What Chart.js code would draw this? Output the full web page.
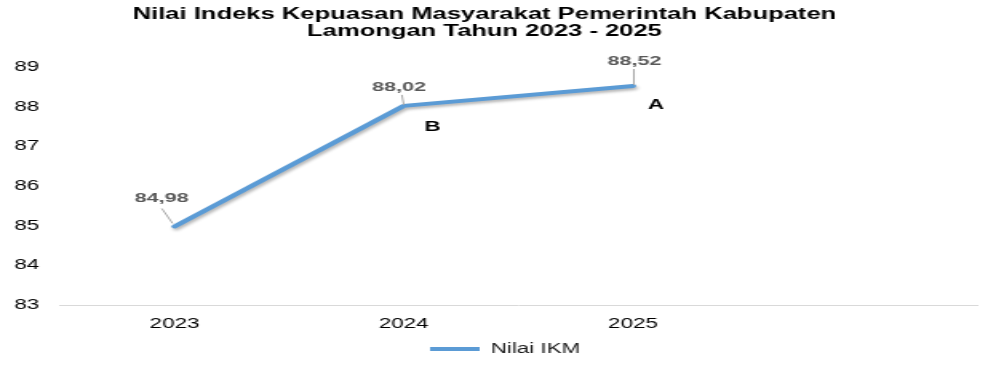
<!DOCTYPE html>
<html>
<head>
<meta charset="utf-8">
<title>Nilai IKM Lamongan</title>
<script src="https://cdn.jsdelivr.net/npm/chart.js@4.4.1/dist/chart.umd.min.js"></script>
<style>
  html, body { margin: 0; padding: 0; background: #fff; overflow: hidden; }
  /* gambar asli melebar ke samping, jadi kanvas ditarik horizontal */
  #wrap { width: 628px; height: 372px; transform: scaleX(1.5987); transform-origin: 0 0; }
</style>
</head>
<body>
<div id="wrap"><canvas id="ikmChart"></canvas></div>
<script>
// data
const judul = ['Nilai Indeks Kepuasan Masyarakat Pemerintah Kabupaten', 'Lamongan Tahun 2023 - 2025'];
const tahun = ['2023', '2024', '2025', ''];
const nilaiIKM = [84.98, 88.02, 88.52, null];
const mutu = ['', 'B', 'A', ''];
const yMin = 83;
const yMax = 89;

const FONT = '"Liberation Sans", Arial, sans-serif';

// judul 2 baris
const judulPlugin = {
  id: 'judulPlugin',
  afterDraw(chart) {
    const ctx = chart.ctx;
    ctx.save();
    ctx.font = 'bold 16px ' + FONT;
    ctx.fillStyle = '#000';
    ctx.textAlign = 'center';
    ctx.textBaseline = 'middle';
    ctx.fillText(judul[0], 303, 14.5);
    ctx.fillText(judul[1], 303, 32);
    ctx.restore();
  }
};

// geser legenda sedikit ke kanan
const legendaPlugin = {
  id: 'legendaPlugin',
  afterLayout(chart) {
    if (chart.legend) chart.legend.left += 12;
  }
};

// bayangan garis
const bayanganPlugin = {
  id: 'bayanganPlugin',
  beforeDatasetDraw(chart) {
    const ctx = chart.ctx;
    ctx.save();
    ctx.shadowColor = 'rgba(0, 0, 0, 0.3)';
    ctx.shadowBlur = 3;
    ctx.shadowOffsetX = 1;
    ctx.shadowOffsetY = 2;
  },
  afterDatasetDraw(chart) {
    chart.ctx.restore();
  }
};

// label nilai + garis penunjuk + huruf mutu
const posisiLabel = [
  { tx: -8, ty: -28, a: [-8, -18], b: [-1.2, -3], mx: 0, my: 0 },
  { tx: -3, ty: -19, a: [-1.2, -11], b: [0, -1], mx: 18, my: 21.5 },
  { tx: 1, ty: -25, a: [0.6, -17], b: [0.6, -1], mx: 14.4, my: 19.5 }
];

const labelPlugin = {
  id: 'labelPlugin',
  afterDatasetsDraw(chart) {
    const ctx = chart.ctx;
    const meta = chart.getDatasetMeta(0);
    ctx.save();
    meta.data.forEach(function (pt, i) {
      const v = nilaiIKM[i];
      if (v === null || !posisiLabel[i]) return;
      const p = posisiLabel[i];
      // garis penunjuk
      ctx.strokeStyle = '#a6a6a6';
      ctx.lineWidth = 1;
      ctx.beginPath();
      ctx.moveTo(pt.x + p.a[0], pt.y + p.a[1]);
      ctx.lineTo(pt.x + p.b[0], pt.y + p.b[1]);
      ctx.stroke();
      // angka
      ctx.font = 'bold 13.5px ' + FONT;
      ctx.fillStyle = '#595959';
      ctx.textAlign = 'center';
      ctx.textBaseline = 'middle';
      ctx.fillText(v.toFixed(2).replace('.', ','), pt.x + p.tx, pt.y + p.ty);
      // huruf mutu
      if (mutu[i]) {
        ctx.font = 'bold 14px ' + FONT;
        ctx.fillStyle = '#000';
        ctx.fillText(mutu[i], pt.x + p.mx, pt.y + p.my);
      }
    });
    ctx.restore();
  }
};

const ctx = document.getElementById('ikmChart').getContext('2d');

new Chart(ctx, {
  type: 'line',
  data: {
    labels: tahun,
    datasets: [{
      label: 'Nilai IKM',
      data: nilaiIKM,
      borderColor: '#5b9bd5',
      backgroundColor: '#5b9bd5',
      borderWidth: 4,
      borderCapStyle: 'round',
      borderJoinStyle: 'round',
      pointRadius: 0,
      pointHoverRadius: 0,
      pointStyle: 'line',
      tension: 0,
      fill: false
    }]
  },
  options: {
    responsive: true,
    maintainAspectRatio: false,
    animation: false,
    layout: {
      padding: { top: 67, left: 9, right: 17, bottom: 6 }
    },
    scales: {
      x: {
        offset: true,
        grid: { display: false, drawTicks: false },
        border: { display: true, color: '#d9d9d9', width: 1 },
        ticks: {
          color: '#000',
          padding: 11,
          font: { family: FONT, size: 14 },
          maxRotation: 0,
          autoSkip: false
        },
        afterFit(scale) { scale.height = 27; }
      },
      y: {
        min: yMin,
        max: yMax,
        grid: { display: false, drawTicks: false },
        border: { display: false },
        ticks: {
          stepSize: 1,
          color: '#000',
          crossAlign: 'far',
          font: { family: FONT, size: 14 }
        },
        afterFit(scale) { scale.width = 28.5; }
      }
    },
    plugins: {
      title: { display: false },
      tooltip: { enabled: false },
      legend: {
        position: 'bottom',
        labels: {
          usePointStyle: true,
          pointStyle: 'line',
          pointStyleWidth: 31,
          padding: 10,
          color: '#1a1a1a',
          font: { family: FONT, size: 14 }
        }
      }
    }
  },
  plugins: [judulPlugin, legendaPlugin, bayanganPlugin, labelPlugin]
});
</script>
</body>
</html>
